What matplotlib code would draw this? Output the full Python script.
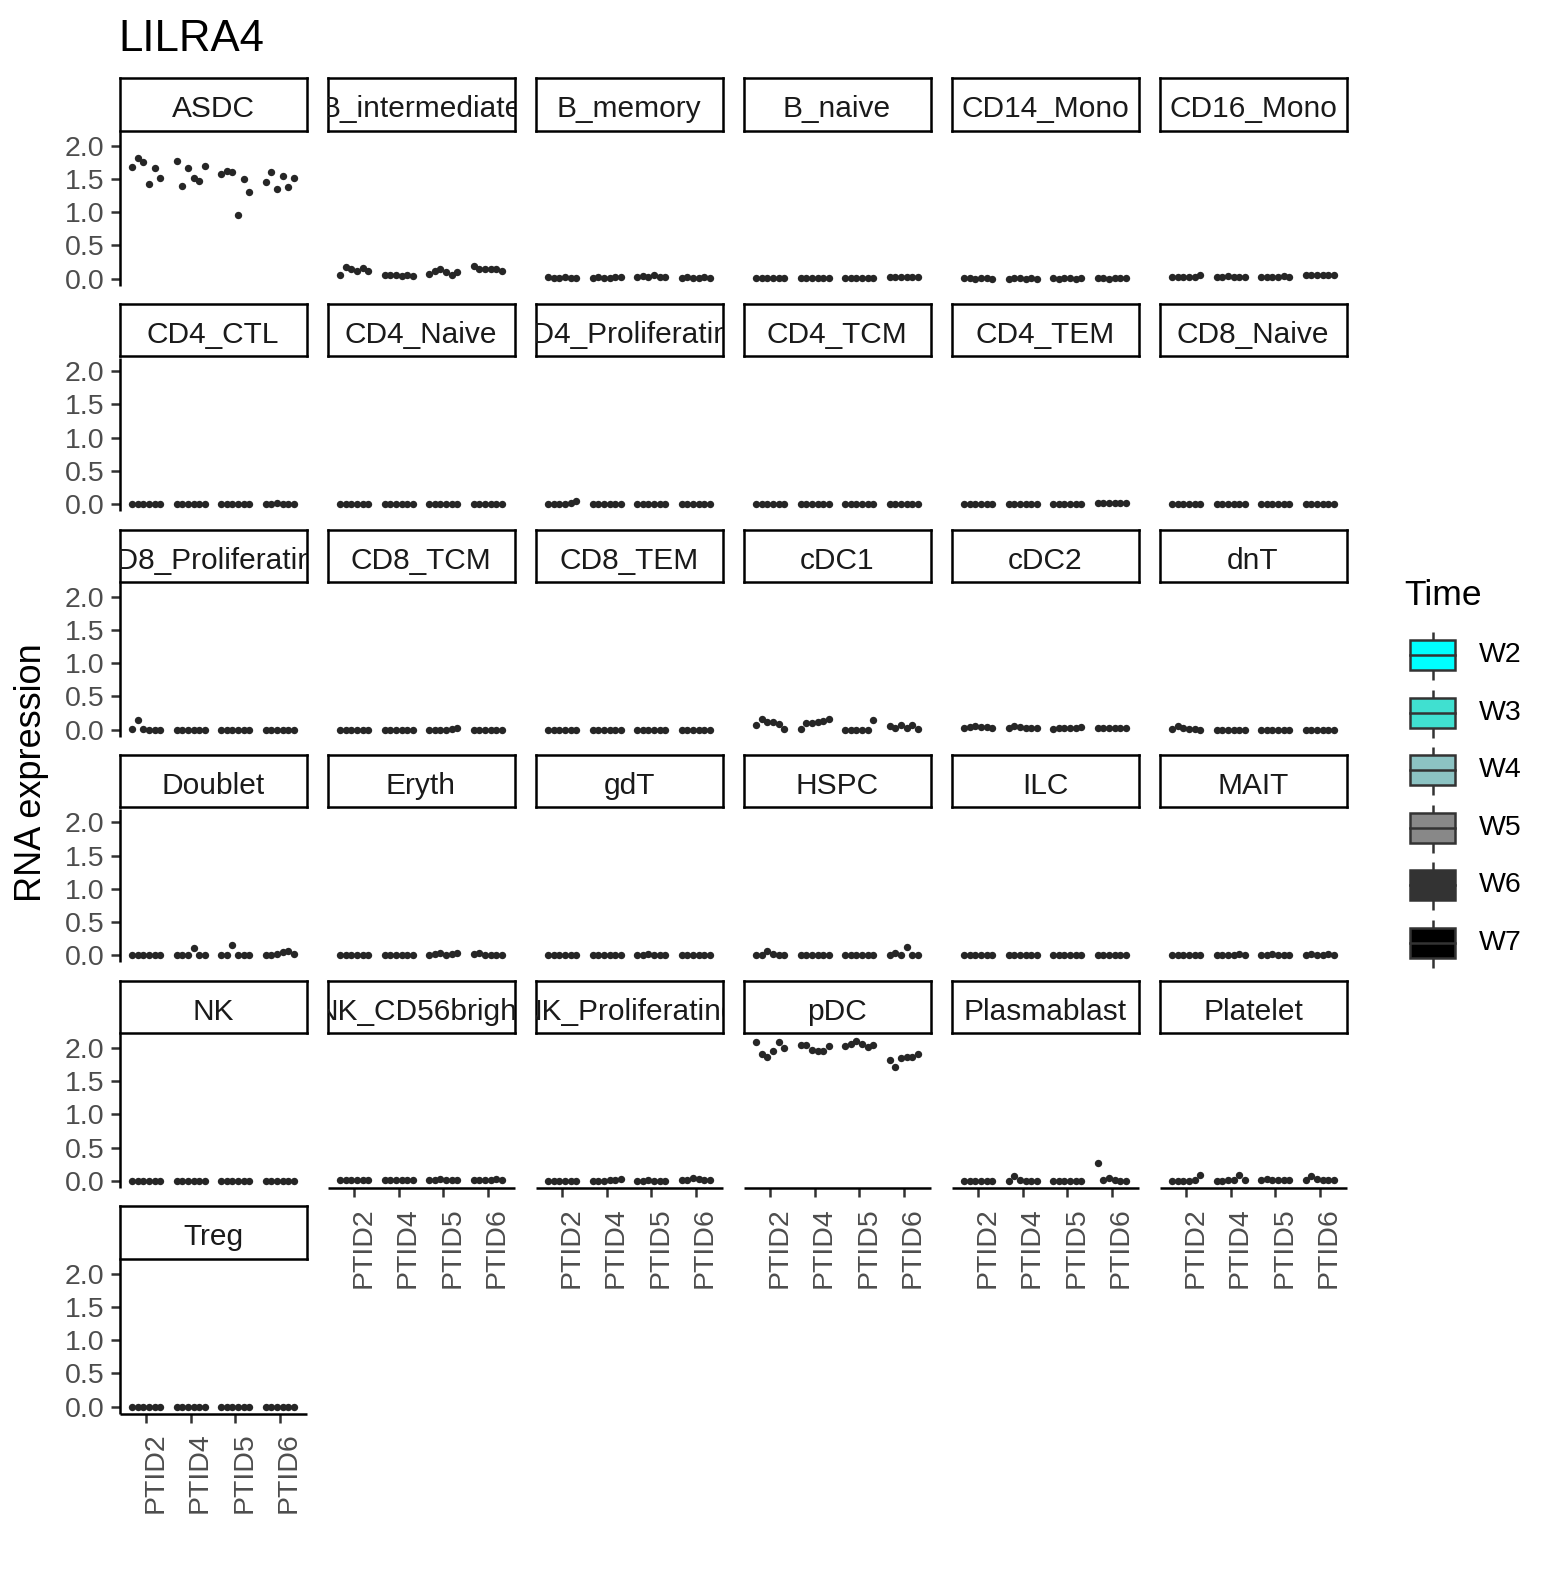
import numpy as np
import matplotlib
matplotlib.use("Agg")
import matplotlib.pyplot as plt
import matplotlib.transforms as mtransforms
from matplotlib.patches import Rectangle

plt.rcParams['font.family'] = ['Liberation Sans', 'DejaVu Sans']

gene = "LILRA4"
ptids = ["PTID2", "PTID4", "PTID5", "PTID6"]
times = ["W2", "W3", "W4", "W5", "W6", "W7"]
time_colors = ["#00FFFF", "#40E0D0", "#8CC3C3", "#888888", "#333333", "#000000"]

cell_types = ["ASDC", "B_intermediate", "B_memory", "B_naive", "CD14_Mono", "CD16_Mono",
              "CD4_CTL", "CD4_Naive", "CD4_Proliferating", "CD4_TCM", "CD4_TEM", "CD8_Naive",
              "CD8_Proliferating", "CD8_TCM", "CD8_TEM", "cDC1", "cDC2", "dnT",
              "Doublet", "Eryth", "gdT", "HSPC", "ILC", "MAIT",
              "NK", "NK_CD56bright", "NK_Proliferating", "pDC", "Plasmablast", "Platelet",
              "Treg"]

# une liste par type cellulaire : PTID2 (W2..W7), PTID4, PTID5, PTID6
asdc = [1.68, 1.81, 1.75, 1.42, 1.67, 1.52, 1.77, 1.39, 1.66, 1.52, 1.47, 1.69,
        1.57, 1.62, 1.60, 0.95, 1.50, 1.30, 1.46, 1.60, 1.34, 1.54, 1.38, 1.52]
b_intermediate = [0.06, 0.18, 0.14, 0.11, 0.16, 0.12, 0.05, 0.06, 0.06, 0.04, 0.06, 0.04,
                  0.07, 0.11, 0.15, 0.10, 0.06, 0.10, 0.19, 0.15, 0.14, 0.15, 0.14, 0.11]
b_memory = [0.02, 0.01, 0.01, 0.02, 0.01, 0.01, 0.01, 0.02, 0.01, 0.01, 0.02, 0.02,
            0.02, 0.04, 0.03, 0.06, 0.03, 0.02, 0.01, 0.02, 0.01, 0.01, 0.02, 0.01]
b_naive = [0.01, 0.01, 0.01, 0.01, 0.01, 0.01, 0.01, 0.01, 0.01, 0.01, 0.01, 0.01,
           0.01, 0.01, 0.01, 0.01, 0.01, 0.01, 0.02, 0.03, 0.02, 0.02, 0.02, 0.02]
cd14_mono = [0.01, 0.01, 0.00, 0.01, 0.01, 0.00, 0.00, 0.01, 0.01, 0.00, 0.01, 0.00,
             0.01, 0.00, 0.01, 0.01, 0.00, 0.01, 0.01, 0.01, 0.00, 0.01, 0.01, 0.01]
cd16_mono = [0.02, 0.02, 0.02, 0.03, 0.03, 0.05, 0.02, 0.03, 0.04, 0.03, 0.03, 0.03,
             0.02, 0.03, 0.03, 0.03, 0.04, 0.03, 0.05, 0.06, 0.06, 0.05, 0.06, 0.05]
cd4_ctl = [0.00, 0.00, 0.00, 0.00, 0.00, 0.00, 0.00, 0.00, 0.00, 0.00, 0.00, 0.00,
           0.00, 0.00, 0.00, 0.00, 0.00, 0.00, 0.00, 0.00, 0.01, 0.00, 0.00, 0.00]
cd4_naive = [0.00, 0.00, 0.00, 0.00, 0.00, 0.00, 0.00, 0.00, 0.00, 0.00, 0.00, 0.00,
             0.00, 0.00, 0.00, 0.00, 0.00, 0.00, 0.00, 0.00, 0.00, 0.00, 0.00, 0.00]
cd4_prolif = [0.00, 0.00, 0.00, 0.00, 0.01, 0.05, 0.00, 0.00, 0.00, 0.00, 0.00, 0.00,
              0.00, 0.00, 0.00, 0.00, 0.00, 0.00, 0.00, 0.00, 0.00, 0.00, 0.00, 0.00]
cd4_tcm = [0.00, 0.00, 0.00, 0.00, 0.00, 0.00, 0.00, 0.00, 0.00, 0.00, 0.00, 0.00,
           0.00, 0.00, 0.00, 0.00, 0.00, 0.00, 0.00, 0.00, 0.00, 0.00, 0.00, 0.00]
cd4_tem = [0.00, 0.00, 0.00, 0.00, 0.00, 0.00, 0.00, 0.00, 0.00, 0.00, 0.00, 0.00,
           0.00, 0.00, 0.00, 0.00, 0.00, 0.00, 0.01, 0.02, 0.02, 0.01, 0.02, 0.01]
cd8_naive = [0.00, 0.00, 0.00, 0.00, 0.00, 0.00, 0.00, 0.00, 0.00, 0.00, 0.00, 0.00,
             0.00, 0.00, 0.00, 0.00, 0.00, 0.00, 0.00, 0.00, 0.00, 0.00, 0.00, 0.00]
cd8_prolif = [0.01, 0.14, 0.01, 0.00, 0.00, 0.00, 0.00, 0.00, 0.00, 0.00, 0.00, 0.00,
              0.00, 0.00, 0.00, 0.00, 0.00, 0.00, 0.00, 0.00, 0.00, 0.00, 0.00, 0.00]
cd8_tcm = [0.00, 0.00, 0.00, 0.00, 0.00, 0.00, 0.00, 0.00, 0.00, 0.00, 0.00, 0.00,
           0.00, 0.00, 0.00, 0.00, 0.01, 0.03, 0.00, 0.00, 0.00, 0.00, 0.00, 0.00]
cd8_tem = [0.00, 0.00, 0.00, 0.00, 0.00, 0.00, 0.00, 0.00, 0.00, 0.00, 0.00, 0.00,
           0.00, 0.00, 0.00, 0.00, 0.00, 0.00, 0.00, 0.00, 0.00, 0.00, 0.00, 0.00]
cdc1 = [0.07, 0.16, 0.12, 0.11, 0.08, 0.01, 0.01, 0.10, 0.10, 0.12, 0.13, 0.16,
        0.00, 0.00, 0.00, 0.00, 0.00, 0.14, 0.06, 0.02, 0.07, 0.02, 0.07, 0.01]
cdc2 = [0.03, 0.04, 0.05, 0.04, 0.04, 0.03, 0.02, 0.05, 0.04, 0.03, 0.02, 0.02,
        0.01, 0.02, 0.02, 0.03, 0.03, 0.04, 0.02, 0.03, 0.02, 0.02, 0.02, 0.02]
dnt = [0.01, 0.05, 0.02, 0.01, 0.01, 0.00, 0.00, 0.00, 0.00, 0.00, 0.00, 0.00,
       0.00, 0.00, 0.00, 0.00, 0.00, 0.00, 0.00, 0.00, 0.00, 0.00, 0.00, 0.00]
doublet = [0.00, 0.00, 0.00, 0.00, 0.00, 0.00, 0.01, 0.00, 0.01, 0.11, 0.00, 0.00,
           0.00, 0.00, 0.16, 0.00, 0.01, 0.00, 0.00, 0.01, 0.02, 0.05, 0.06, 0.02]
eryth = [0.00, 0.00, 0.00, 0.00, 0.00, 0.00, 0.00, 0.00, 0.00, 0.00, 0.00, 0.00,
         0.01, 0.02, 0.03, 0.01, 0.02, 0.03, 0.02, 0.03, 0.01, 0.00, 0.01, 0.00]
gdt = [0.00, 0.00, 0.00, 0.00, 0.00, 0.00, 0.00, 0.00, 0.00, 0.00, 0.00, 0.00,
       0.01, 0.01, 0.02, 0.01, 0.01, 0.00, 0.00, 0.00, 0.00, 0.00, 0.00, 0.00]
hspc = [0.00, 0.01, 0.06, 0.02, 0.00, 0.00, 0.00, 0.00, 0.00, 0.00, 0.00, 0.00,
        0.00, 0.00, 0.00, 0.00, 0.00, 0.00, 0.01, 0.03, 0.00, 0.12, 0.00, 0.01]
ilc = [0.00, 0.00, 0.00, 0.00, 0.00, 0.00, 0.00, 0.00, 0.00, 0.00, 0.00, 0.00,
       0.00, 0.00, 0.00, 0.00, 0.00, 0.00, 0.00, 0.00, 0.00, 0.00, 0.00, 0.00]
mait = [0.01, 0.01, 0.01, 0.01, 0.01, 0.01, 0.00, 0.01, 0.01, 0.01, 0.02, 0.01,
        0.01, 0.01, 0.02, 0.01, 0.01, 0.01, 0.01, 0.02, 0.01, 0.01, 0.02, 0.01]
nk = [0.00, 0.00, 0.00, 0.00, 0.00, 0.00, 0.00, 0.00, 0.00, 0.00, 0.00, 0.00,
      0.00, 0.00, 0.00, 0.00, 0.00, 0.00, 0.00, 0.00, 0.00, 0.00, 0.00, 0.00]
nk_cd56bright = [0.01, 0.01, 0.01, 0.02, 0.01, 0.02, 0.01, 0.01, 0.01, 0.01, 0.01, 0.01,
                 0.01, 0.02, 0.03, 0.02, 0.02, 0.01, 0.01, 0.01, 0.02, 0.02, 0.03, 0.02]
nk_prolif = [0.00, 0.00, 0.00, 0.00, 0.00, 0.00, 0.00, 0.00, 0.00, 0.01, 0.01, 0.03,
             0.00, 0.00, 0.01, 0.00, 0.00, 0.00, 0.01, 0.02, 0.05, 0.03, 0.02, 0.01]
pdc = [2.09, 1.91, 1.87, 1.95, 2.09, 2.00, 2.05, 2.04, 1.97, 1.95, 1.96, 2.03,
       2.03, 2.06, 2.10, 2.06, 2.01, 2.04, 1.82, 1.72, 1.85, 1.86, 1.87, 1.91]
plasmablast = [0.00, 0.00, 0.00, 0.00, 0.00, 0.00, 0.00, 0.08, 0.02, 0.00, 0.00, 0.00,
               0.00, 0.00, 0.00, 0.00, 0.00, 0.00, 0.27, 0.01, 0.04, 0.01, 0.00, 0.00]
platelet = [0.00, 0.00, 0.00, 0.00, 0.01, 0.09, 0.00, 0.00, 0.01, 0.02, 0.09, 0.02,
            0.01, 0.03, 0.01, 0.02, 0.01, 0.01, 0.02, 0.08, 0.03, 0.02, 0.01, 0.01]
treg = [0.00, 0.00, 0.00, 0.00, 0.00, 0.00, 0.00, 0.00, 0.00, 0.00, 0.00, 0.00,
        0.00, 0.00, 0.00, 0.00, 0.00, 0.00, 0.00, 0.00, 0.00, 0.00, 0.00, 0.00]

expression = [asdc, b_intermediate, b_memory, b_naive, cd14_mono, cd16_mono,
              cd4_ctl, cd4_naive, cd4_prolif, cd4_tcm, cd4_tem, cd8_naive,
              cd8_prolif, cd8_tcm, cd8_tem, cdc1, cdc2, dnt,
              doublet, eryth, gdt, hspc, ilc, mait,
              nk, nk_cd56bright, nk_prolif, pdc, plasmablast, platelet,
              treg]

# mise en page en pixels (figure 1560x1575)
W, H = 1560, 1575
NCOL = 6
col_left0, col_pitch, pw = 119.5, 208, 187
row_top0, row_pitch, ph = 132, 225.6, 153.5
strip_h, strip_gap = 52.2, 1.5
LW = 1.8
TXT = "#4D4D4D"


def px_box(left, top, width, height):
    return [left / W, 1 - (top + height) / H, width / W, height / H]


fig = plt.figure(figsize=(W / 100, H / 100), dpi=100)

ymax = max(max(v) for v in expression)
ylo, yhi = -0.05 * ymax, ymax * 1.05
offs = (np.arange(len(times)) - (len(times) - 1) / 2) * 0.75 / len(times)
n = len(cell_types)

for i, (name, vals) in enumerate(zip(cell_types, expression)):
    r, c = divmod(i, NCOL)
    left = col_left0 + c * col_pitch
    top = row_top0 + r * row_pitch
    ax = fig.add_axes(px_box(left, top, pw, ph))
    ax.patch.set_alpha(0)
    v = np.array(vals).reshape(len(ptids), len(times))
    for p in range(len(ptids)):
        ax.plot(p + 1 + offs, v[p], 'o', ms=5.3, color='#262626', mec='none', zorder=3, clip_on=False)
    ax.set_xlim(0.4, len(ptids) + 0.6)
    ax.set_ylim(ylo, yhi)

    bottom = i + NCOL >= n
    ax.spines['top'].set_visible(False)
    ax.spines['right'].set_visible(False)
    ax.spines['left'].set_visible(c == 0)
    ax.spines['bottom'].set_visible(bottom)
    for s in ('left', 'bottom'):
        ax.spines[s].set_linewidth(LW)
        ax.spines[s].set_capstyle('butt')

    ax.set_xticks(range(1, len(ptids) + 1))
    ax.set_yticks([0, 0.5, 1.0, 1.5, 2.0])
    ax.tick_params(length=6.3, width=LW, color='#333333', labelsize=20.5, labelcolor=TXT, pad=4.5)
    ax.tick_params(axis='x', bottom=bottom, labelbottom=False)
    if c == 0:
        ax.set_yticklabels(["0.0", "0.5", "1.0", "1.5", "2.0"])
    else:
        ax.tick_params(axis='y', left=False, labelleft=False)

    if bottom:
        off = mtransforms.ScaledTranslation(9 / 100, -19 / 100, fig.dpi_scale_trans)
        tr = mtransforms.blended_transform_factory(ax.transData, ax.transAxes) + off
        for p, lab in enumerate(ptids):
            ax.text(p + 1, 0, lab, transform=tr, rotation=90, ha='center', va='top',
                    fontsize=20.5, color=TXT)

    # bandeau du facet
    sax = fig.add_axes(px_box(left, top - strip_gap - strip_h, pw, strip_h))
    sax.set_xticks([])
    sax.set_yticks([])
    for sp in sax.spines.values():
        sp.set_linewidth(LW)
    sax.text(0.5, 0.25, name, transform=sax.transAxes, ha='center', va='baseline',
             fontsize=21.5, color='#1A1A1A', clip_on=True)

fig.text(118 / W, 1 - 51 / H, gene, fontsize=31.5, va='baseline', ha='left')
fig.text(32 / W, 1 - 773 / H, "RNA expression", rotation=90, fontsize=26,
         ha='center', va='center')

# légende
lax = fig.add_axes([0, 0, 1, 1])
lax.set_xlim(0, W)
lax.set_ylim(H, 0)
lax.axis('off')
lax.text(1404, 605, "Time", fontsize=25.5, va='baseline', ha='left')
for k, (t, col) in enumerate(zip(times, time_colors)):
    cy = 655 + 57.6 * k
    lax.plot([1432.5, 1432.5], [cy - 23, cy + 25], color='#333333', lw=LW, solid_capstyle='butt')
    lax.add_patch(Rectangle((1410, cy - 15), 45, 30, facecolor=col, edgecolor='#333333', lw=LW, zorder=3))
    lax.plot([1410, 1455], [cy, cy], color='#333333', lw=LW, zorder=4)
    lax.text(1479, cy, t, fontsize=20.5, va='center', ha='left')

fig.savefig("out.png", dpi=100)
